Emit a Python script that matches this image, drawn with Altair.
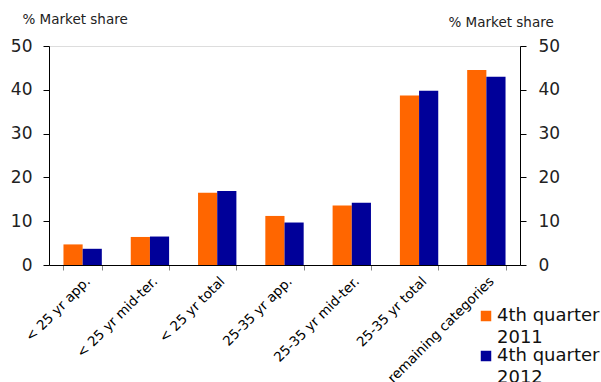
import altair as alt
import pandas as pd

categories = ["< 25 yr app.", "< 25 yr mid-ter.", "< 25 yr total", "25-35 yr app.",
              "25-35 yr mid-ter.", "25-35 yr total", "remaining categories"]
series = ["4th quarter 2011", "4th quarter 2012"]
q4_2011 = [4.7, 6.4, 16.5, 11.2, 13.6, 38.7, 44.5]
q4_2012 = [3.7, 6.5, 16.9, 9.7, 14.2, 39.8, 43.0]
colors = ["#FF6600", "#000099"]

rows = []
for c, a, b in zip(categories, q4_2011, q4_2012):
    rows.append({"cat": c, "series": series[0], "value": a})
    rows.append({"cat": c, "series": series[1], "value": b})
df = pd.DataFrame(rows)

FONT = "DejaVu Sans"

x = alt.X("cat:N", sort=categories, title=None,
          scale=alt.Scale(paddingInner=0.43, paddingOuter=0.215),
          axis=alt.Axis(labelAngle=-45, labelFontSize=13.5, labelColor="#000",
                        labelFont=FONT, tickBand="extent", tickColor="#888",
                        domainColor="#000", tickSize=5, labelPadding=4, labelOffset=0))

color = alt.Color("series:N", sort=series,
                  scale=alt.Scale(domain=series, range=colors),
                  legend=alt.Legend(title=None, orient="none", legendX=428, legendY=261,
                                    symbolType="square", symbolSize=110, symbolStrokeWidth=0,
                                    labelFontSize=18, labelFont=FONT, labelColor="#111",
                                    labelOffset=2,
                                    labelExpr="[substring(datum.label,0,11), substring(datum.label,12)]",
                                    rowPadding=-5, labelLimit=300))

base = alt.Chart(df).encode(
    x=x,
    xOffset=alt.XOffset("series:N", sort=series),
    color=color,
)

left = base.mark_bar().encode(
    y=alt.Y("value:Q", scale=alt.Scale(domain=[0, 50]),
            axis=alt.Axis(values=[0, 10, 20, 30, 40, 50], grid=False, title="% Market share",
                          titleAngle=0, titleAlign="left", titleBaseline="middle",
                          titleX=-27, titleY=-27, titleFontSize=13.5, titleFontWeight="normal",
                          titleFont=FONT, titleColor="#222",
                          labelFontSize=17, labelFont=FONT, labelColor="#222",
                          tickSize=6, tickColor="#000", domainColor="#000", labelPadding=11))
)

right = base.mark_bar(opacity=0).encode(
    y=alt.Y("value:Q", scale=alt.Scale(domain=[0, 50]),
            axis=alt.Axis(orient="right", values=[0, 10, 20, 30, 40, 50], grid=False,
                          title="% Market share",
                          titleAngle=0, titleAlign="left", titleBaseline="middle",
                          titleX=-72, titleY=-24, titleFontSize=13.5, titleFontWeight="normal",
                          titleFont=FONT, titleColor="#222",
                          labelFontSize=17, labelFont=FONT, labelColor="#222",
                          tickSize=6, tickColor="#000", domainColor="#000", labelPadding=12))
)

chart = alt.layer(left, right).resolve_scale(y="independent").properties(
    width=471, height=219,
    autosize=alt.AutoSizeParams(type="none"),
    padding={"left": 49, "top": 46, "right": 81, "bottom": 117},
    background="white",
).configure_view(stroke=None).configure(style={"guide-label": {"lineHeight": 22}})

chart.save("out.html", embed_options={"renderer": "svg", "actions": False})
